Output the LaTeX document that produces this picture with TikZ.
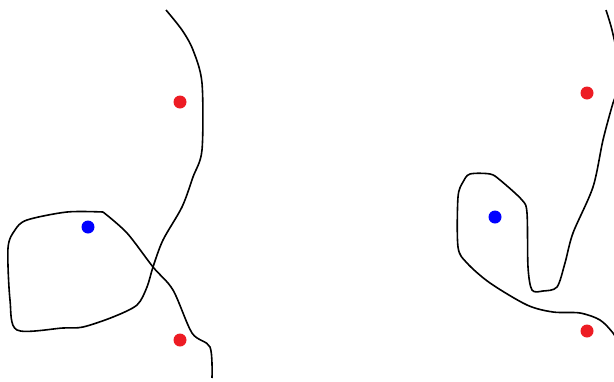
\documentclass[tikz,border=0pt]{standalone}
\definecolor{paintred}{RGB}{237,28,36}
\begin{document}
\begin{tikzpicture}[x=1pt,y=-1pt,
  curve/.style={black,line width=1.6pt,line join=round},
  reddot/.style={circle,fill=paintred,inner sep=0pt,minimum size=13pt},
  bluedot/.style={circle,fill=blue,inner sep=0pt,minimum size=13pt}]
\useasboundingbox (0,0) rectangle (614,381);
\clip (0,0) rectangle (614,381);
% left figure
\draw[curve] plot[smooth,tension=0.5] coordinates {(166,10) (182,30) (193,50) (202,83) (202,150) (193,177) (182,207) (163,240) (153,267) (147,287) (137,305) (113,317) (83,327) (63,328) (17,330) (10,300) (8,248) (15,230) (27,220) (67,212) (103,212)};
\draw[curve] plot[smooth,tension=0.5] coordinates {(103,212) (127,233) (153,267) (173,290) (192,333) (210,347) (212,378)};
\node[reddot] (r1) at (180,102) {};
\node[reddot] (r2) at (180,340) {};
\node[bluedot] (b1) at (88,227) {};
% right figure
\draw[curve] plot[smooth,tension=0.5] coordinates {(606,10) (612,30) (618,60) (618,90) (613,103) (603,140) (593,187) (573,233) (565,263) (557,287) (543,291) (532,290) (528,267) (527,213) (522,200) (500,180) (490,174) (470,174) (463,182) (458,197) (458,247) (467,263) (490,283) (527,305) (553,312) (580,313) (600,320) (613,333) (620,345)};
\node[reddot] (r3) at (587,93) {};
\node[reddot] (r4) at (587,331) {};
\node[bluedot] (b2) at (495,217) {};
\end{tikzpicture}
\end{document}
